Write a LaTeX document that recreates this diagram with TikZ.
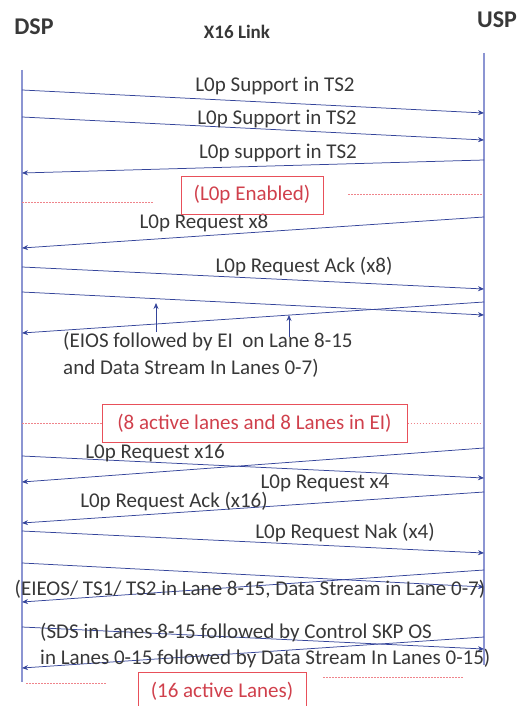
\documentclass[tikz,border=0pt]{standalone}
\usepackage{fontspec}
\setmainfont{Carlito}
\usetikzlibrary{arrows.meta}
\definecolor{arrowblue}{HTML}{34449A}
\definecolor{lifeblue}{HTML}{8C95D2}
\definecolor{txtgray}{HTML}{383838}
\definecolor{boxred}{HTML}{E8505A}
\definecolor{txtred}{HTML}{D0404C}
\tikzset{
  msg/.style={draw=arrowblue, line width=0.75pt, -{Stealth[length=6pt,width=5pt]}},
  lifeline/.style={draw=lifeblue, line width=1.1pt},
  lbl/.style={text=txtgray, font=\fontsize{21}{26}\selectfont, inner sep=0pt},
  lblw/.style={lbl, anchor=west, align=left},
  head/.style={text=txtgray, font=\fontsize{24}{28}\selectfont\bfseries, inner sep=0pt},
  subhead/.style={text=txtgray, font=\fontsize{19}{24}\selectfont\bfseries, inner sep=0pt},
  statebox/.style={draw=boxred, line width=1pt, text=txtred, font=\fontsize{21}{26}\selectfont, inner sep=0pt},
  sep/.style={draw=boxred!70, line width=0.6pt, dash pattern=on 1.5pt off 1.5pt}
}
\begin{document}
\begin{tikzpicture}[x=1pt,y=-1pt]
\useasboundingbox (0,0) rectangle (527,706);
% headers
\node[head] (dsp) at (34,27) {DSP};
\node[head] (usp) at (497,20) {USP};
\node[subhead] (link) at (237,32) {X16 Link};
% lifelines
\coordinate (lt) at (22,70);
\coordinate (lb) at (22,682);
\coordinate (rt) at (484,53);
\coordinate (rb) at (484,665);
\draw[lifeline] (lt) -- (lb);
\draw[lifeline] (rt) -- (rb);
% endpoints
\foreach \n/\y in {a1/90,a2/117,b3/173,b4/248,a5/267,a6/292,b7/333,b8/482,a9/456,b10/523,a11/531,a12/563,b13/602,a14/627,b15/668}
  \coordinate (L\n) at (22,\y);
\foreach \n/\y in {a1/113,a2/140,b3/160,b4/217,a5/289,a6/315,b7/302,b8/448,a9/478,b10/492,a11/553,a12/587,b13/570,a14/649,b15/637}
  \coordinate (R\n) at (484,\y);
% messages
\draw[msg] (La1) -- (Ra1);
\draw[msg] (La2) -- (Ra2);
\draw[msg] (Rb3) -- (Lb3);
\draw[msg] (Rb4) -- (Lb4);
\draw[msg] (La5) -- (Ra5);
\draw[msg] (La6) -- (Ra6);
\draw[msg] (Rb7) -- (Lb7);
\draw[msg] (Rb8) -- (Lb8);
\draw[msg] (La9) -- (Ra9);
\draw[msg] (Rb10) -- (Lb10);
\draw[msg] (La11) -- (Ra11);
\draw[msg] (La12) -- (Ra12);
\draw[msg] (Rb13) -- (Lb13);
\draw[msg] (La14) -- (Ra14);
\draw[msg] (Rb15) -- (Lb15);
% up arrows
\coordinate (u1b) at (156,332);
\coordinate (u1t) at (156,303);
\coordinate (u2b) at (289,337);
\coordinate (u2t) at (289,315);
\draw[msg] (u1b) -- (u1t);
\draw[msg] (u2b) -- (u2t);
% labels
\node[lbl] (t1) at (275,86) {L0p Support in TS2};
\node[lbl] (t2) at (277,119) {L0p Support in TS2};
\node[lbl] (t3) at (278,153) {L0p support in TS2};
\node[lbl] (t4) at (204,223) {L0p Request x8};
\node[lbl] (t5) at (304,267) {L0p Request Ack (x8)};
\node[lblw] (t6) at (63,342) {(EIOS followed by EI \ on Lane 8-15};
\node[lblw] (t6b) at (63,368) {and Data Stream In Lanes 0-7)};
\node[lbl] (t8) at (155,453) {L0p Request x16};
\node[lbl] (t9) at (325,483) {L0p Request x4};
\node[lbl] (t10) at (174,502) {L0p Request Ack (x16)};
\node[lbl] (t11) at (345,533) {L0p Request Nak (x4)};
\node[lbl] (t12) at (250,589) {(EIEOS/ TS1/ TS2 in Lane 8-15, Data Stream in Lane 0-7)};
\node[lblw] (t14) at (40,633) {(SDS in Lanes 8-15 followed by Control SKP OS};
\node[lblw] (t14b) at (40,659) {in Lanes 0-15 followed by Data Stream In Lanes 0-15)};
% state boxes
\node[statebox, minimum width=142pt, minimum height=38pt] (s1) at (252,195) {(L0p Enabled)};
\node[statebox, minimum width=305pt, minimum height=38pt] (s2) at (254.5,423) {(8 active lanes and 8 Lanes in EI)};
\node[statebox, minimum width=168pt, minimum height=38pt] (s3) at (222,691) {(16 active Lanes)};
% separators
\coordinate (d1a) at (22,202); \coordinate (d1b) at (153,202);
\coordinate (d2a) at (348,194); \coordinate (d2b) at (482,194);
\draw[sep] (d1a) -- (d1b);
\draw[sep] (d2a) -- (d2b);
\coordinate (d3a) at (22,423);
\coordinate (d4b) at (482,423);
\draw[sep] (d3a) -- (s2.west);
\draw[sep] (s2.east) -- (d4b);
\coordinate (d5a) at (26,683); \coordinate (d5b) at (107,683);
\coordinate (d6a) at (323,677); \coordinate (d6b) at (463,677);
\draw[sep] (d5a) -- (d5b);
\draw[sep] (d6a) -- (d6b);
\end{tikzpicture}
\end{document}
